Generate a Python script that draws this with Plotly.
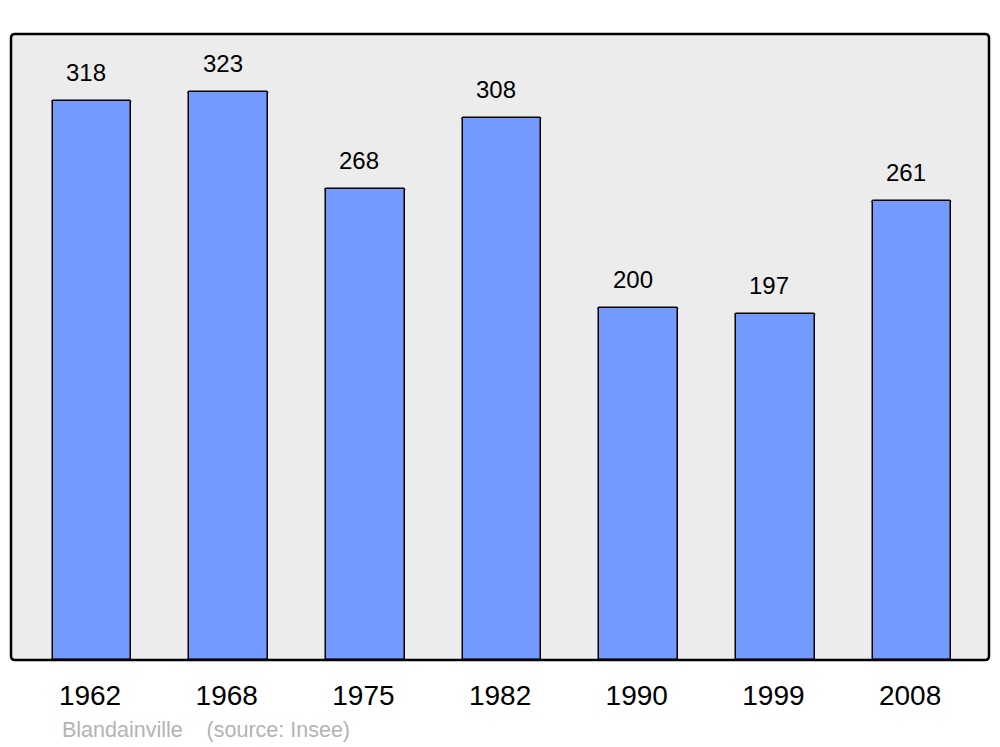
import plotly.graph_objects as go

years = ["1962", "1968", "1975", "1982", "1990", "1999", "2008"]
population = [318, 323, 268, 308, 200, 197, 261]
commune = "Blandainville"
source = "(source: Insee)"

W, H = 1000, 747
PLOT_W, PLOT_H = 978, 626

fig = go.Figure(
    go.Bar(
        x=years,
        y=population,
        width=0.575,
        marker=dict(color="#7499ff", line=dict(color="black", width=1.5), cornerradius=2),
        hoverinfo="x+y",
    )
)

# value labels above each bar (category axis -> use serial index)
for i, v in enumerate(population):
    fig.add_annotation(
        x=i, y=v, text=str(v), showarrow=False,
        yanchor="bottom", yshift=13, xshift=-6,
        font=dict(family="Liberation Sans, Arial", size=24, color="black"),
    )

fig.add_annotation(
    xref="paper", yref="paper", x=(60 - 11) / PLOT_W, y=-(730 - 660) / PLOT_H,
    xanchor="left", yanchor="middle", showarrow=False,
    text=commune + "\u00a0\u00a0\u00a0\u00a0" + source,
    font=dict(family="Liberation Sans, Arial", size=21.5, color="#b3b3b3"),
)

# rounded frame around plot area
rx, ry = 4 / PLOT_W, 4 / PLOT_H
frame = (
    f"M {rx},0 L {1 - rx},0 Q 1,0 1,{ry} L 1,{1 - ry} Q 1,1 {1 - rx},1 "
    f"L {rx},1 Q 0,1 0,{1 - ry} L 0,{ry} Q 0,0 {rx},0 Z"
)
fig.add_shape(type="path", path=frame, xref="paper", yref="paper",
              line=dict(color="black", width=2.5), layer="above")

fig.update_layout(
    width=W, height=H,
    margin=dict(l=11, r=11, t=34, b=87),
    paper_bgcolor="white",
    plot_bgcolor="#ececec",
    showlegend=False,
    bargap=0,
    xaxis=dict(
        type="category", range=[-0.593, 6.563],
        showgrid=False, zeroline=False, showline=False, ticks="",
        tickfont=dict(family="Liberation Sans, Arial", size=28, color="black"),
        ticklabelstandoff=16, ticklabelshift=-2,
    ),
    yaxis=dict(
        range=[0, 356], showgrid=False, zeroline=False, showline=False,
        showticklabels=False, ticks="",
    ),
)

fig.write_html(
    "out.html",
    config={"displayModeBar": False},
    post_script="document.body.style.margin='0';",
)
